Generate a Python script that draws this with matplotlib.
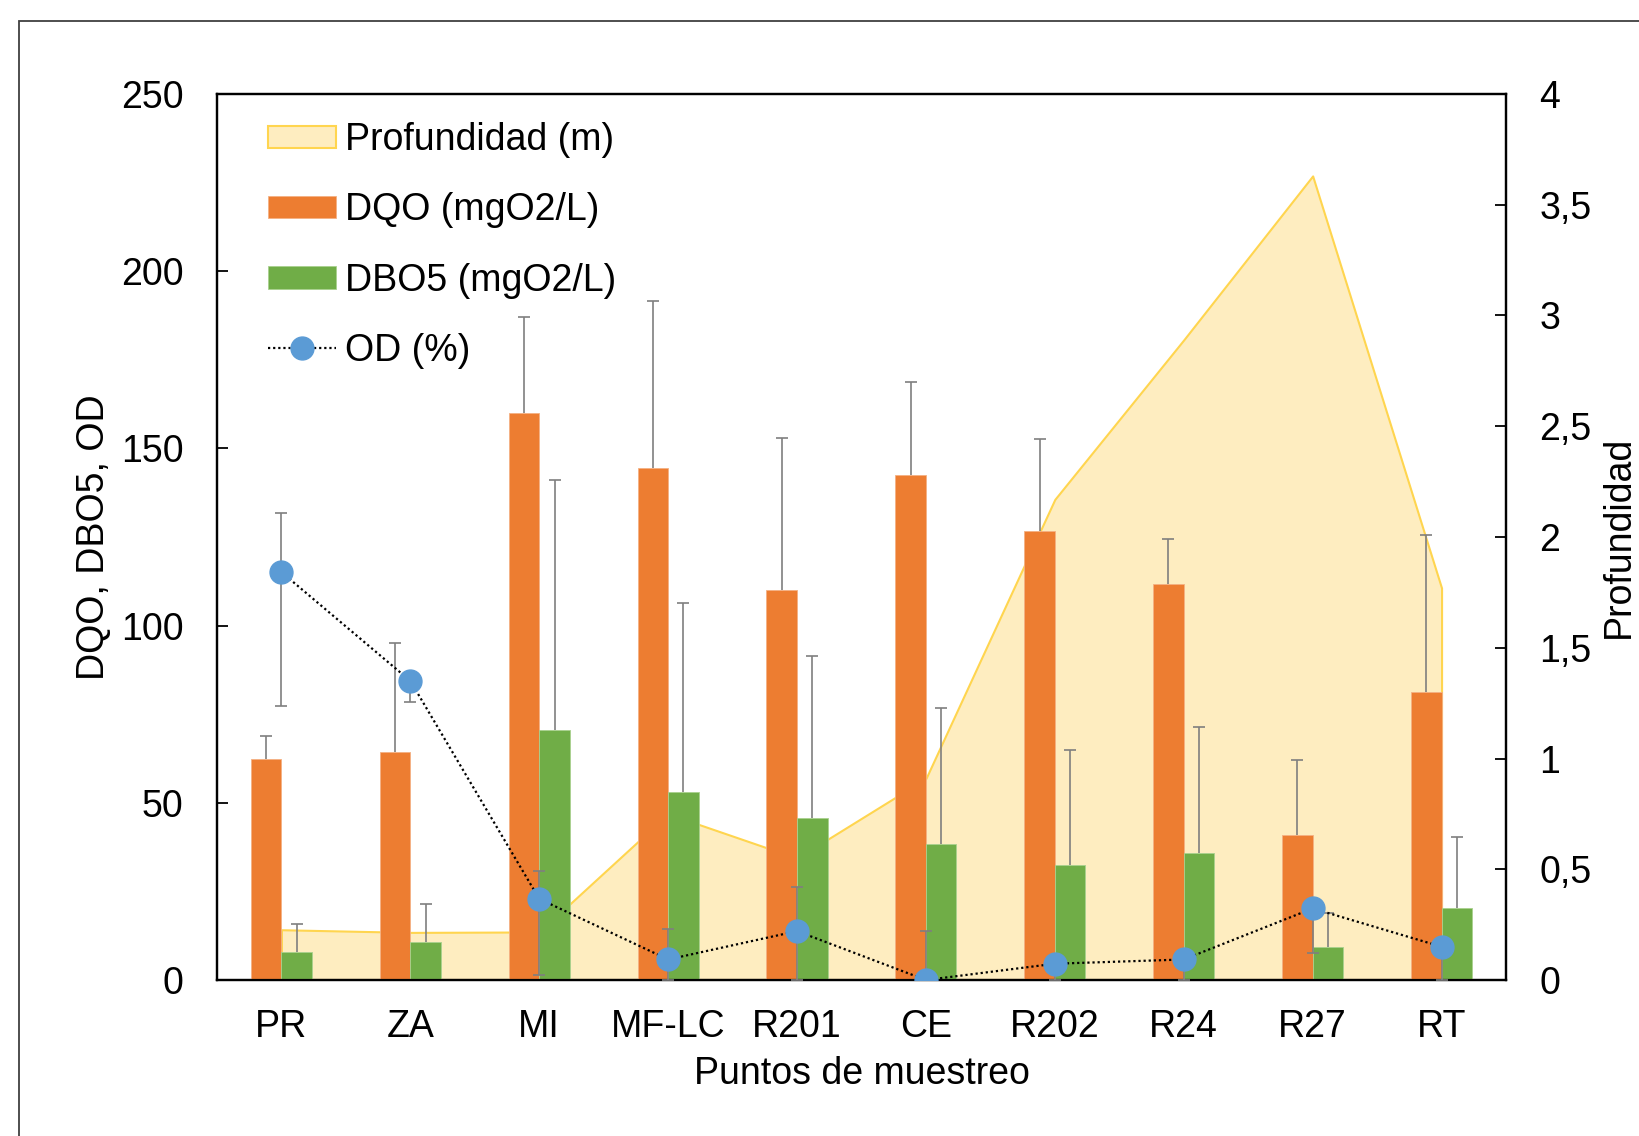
import matplotlib
matplotlib.use('Agg')
import matplotlib.pyplot as plt
import numpy as np
from matplotlib.ticker import FuncFormatter, MultipleLocator

plt.rcParams['font.family'] = ['Liberation Sans', 'DejaVu Sans']

# sampling points
puntos = ['PR', 'ZA', 'MI', 'MF-LC', 'R201', 'CE', 'R202', 'R24', 'R27', 'RT']

# depth (m), right axis
profundidad = [0.227, 0.215, 0.217, 0.75, 0.55, 0.91, 2.17, 2.89, 3.63, 1.77]

# DQO (mgO2/L) and upper error
dqo = [62.3, 64.3, 160.0, 144.6, 110.1, 142.6, 126.7, 111.6, 40.9, 81.2]
dqo_err = [6.5, 30.7, 27.1, 47.0, 42.8, 26.2, 25.9, 12.7, 21.1, 44.5]

# DBO5 (mgO2/L) and upper error
dbo5 = [8.0, 10.6, 70.5, 53.1, 45.7, 38.4, 32.4, 35.7, 9.4, 20.2]
dbo5_err = [7.9, 10.9, 70.5, 53.2, 45.8, 38.3, 32.5, 35.8, 9.6, 20.2]

# OD (%) with lower / upper errors
od = [115.1, 84.4, 22.9, 5.8, 13.8, 0.0, 4.6, 5.8, 20.2, 9.4]
od_err_low = [37.8, 6.0, 21.5, 5.8, 13.8, 0.0, 4.6, 5.8, 12.5, 9.4]
od_err_high = [16.8, 2.0, 7.8, 8.7, 12.5, 13.9, 2.0, 2.0, 2.0, 2.0]

x = np.arange(len(puntos))
w = 0.237
err_col = '#7F7F7F'

fig = plt.figure(figsize=(16.4, 11.36), dpi=100)
ax = fig.add_axes([0.1323, 0.1373, 0.7860, 0.7800])
ax2 = ax.twinx()

# depth area behind everything
area = ax2.fill_between(x, 0, profundidad, facecolor='#FEEDC0', edgecolor='#FFD54F',
                        linewidth=1.5, label='Profundidad (m)')
ax2.set_ylim(0, 4)
ax2.yaxis.set_major_locator(MultipleLocator(0.5))
ax2.yaxis.set_major_formatter(FuncFormatter(lambda v, p: f'{v:g}'.replace('.', ',')))

ax.set_zorder(ax2.get_zorder() + 1)
ax.patch.set_visible(False)

b1 = ax.bar(x - w / 2, dqo, w, color='#ED7D31', edgecolor='#F4B183', linewidth=0.6,
            label='DQO (mgO2/L)', zorder=2)
b2 = ax.bar(x + w / 2, dbo5, w, color='#70AD47', edgecolor='#A9D18E', linewidth=0.6,
            label='DBO5 (mgO2/L)', zorder=2)

# plus-only error bars on the columns (cap only at the top)
for xs, vals, errs in [(x - w / 2, dqo, dqo_err), (x + w / 2, dbo5, dbo5_err)]:
    tops = np.array(vals) + np.array(errs)
    ax.vlines(xs, vals, tops, color=err_col, linewidth=1.2, zorder=3)
    ax.plot(xs, tops, linestyle='none', marker='_', markersize=9, markeredgewidth=1.2,
            color=err_col, zorder=3)

ax.errorbar(x, od, yerr=[od_err_low, od_err_high], fmt='none', ecolor=err_col,
            elinewidth=1.2, capsize=4.5, capthick=1.2, zorder=4)
od_line, = ax.plot(x, od, color='black', linestyle=(0, (1, 1.3)), linewidth=1.6,
                   marker='o', markersize=16.5, markerfacecolor='#5B9BD5',
                   markeredgecolor='#5B9BD5', label='OD (%)', zorder=5)

ax.set_xlim(-0.5, len(x) - 0.5)
ax.set_ylim(0, 250)
ax.yaxis.set_major_locator(MultipleLocator(50))
ax.set_xticks(x)
ax.set_xticklabels(puntos)

ax.tick_params(axis='y', direction='in', length=8, width=1.3, labelsize=27, pad=24)
ax.tick_params(axis='x', length=0, labelsize=27, pad=21)
ax2.tick_params(axis='y', direction='in', length=8, width=1.3, labelsize=27, pad=24)
for a in (ax, ax2):
    for s in a.spines.values():
        s.set_linewidth(1.6)
        s.set_color('black')

ax.set_xlabel('Puntos de muestreo', fontsize=27)
ax.set_ylabel('DQO, DBO5, OD', fontsize=27)
ax2.set_ylabel('Profundidad', fontsize=27)
ax.xaxis.set_label_coords(0.5, -0.106)
ax.xaxis.label.set_va('center')
ax.yaxis.set_label_coords(-0.0954, 0.5)
ax.yaxis.label.set_va('center')
ax2.yaxis.set_label_coords(1.0877, 0.5)
ax2.yaxis.label.set_va('center')

ax.legend([area, b1, b2, od_line],
          ['Profundidad (m)', 'DQO (mgO2/L)', 'DBO5 (mgO2/L)', 'OD (%)'],
          loc='upper left', bbox_to_anchor=(0.0396, 0.968),
          frameon=False, fontsize=27, borderpad=0, borderaxespad=0,
          handlelength=1.81, handleheight=0.55, handletextpad=0.24, labelspacing=0.91)

# outer chart border (cropped on the right/bottom)
fig.add_artist(plt.Rectangle((19 / 1640, -0.5), 2, 1.5 - 21 / 1136, transform=fig.transFigure,
                             fill=False, edgecolor='#404040', linewidth=1.3))

fig.savefig('out.png', dpi=100)
